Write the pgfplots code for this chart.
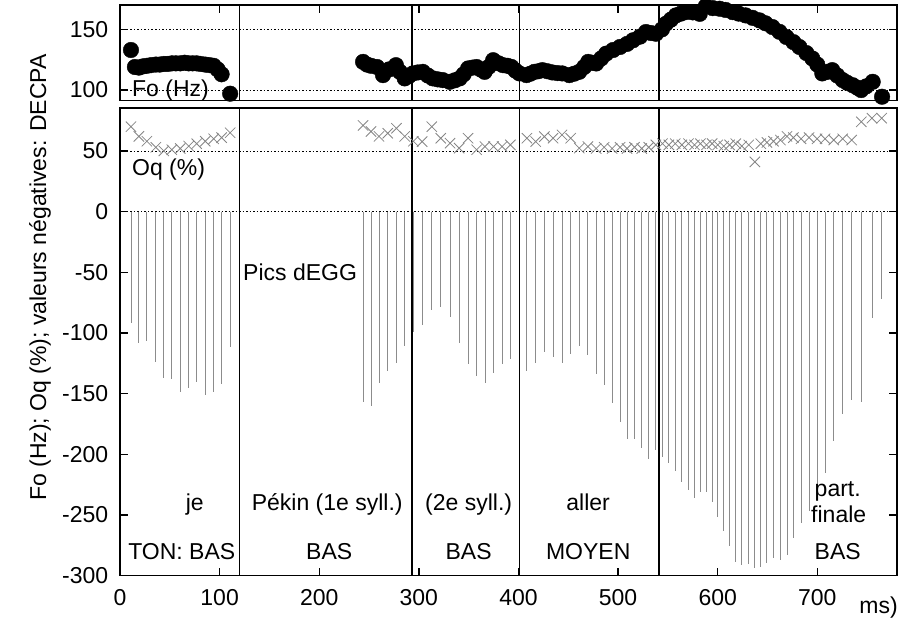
\documentclass[border=0pt]{standalone}
\usepackage{pgfplots}
\pgfplotsset{compat=1.18}
\usepackage{fontspec}
\setmainfont{Liberation Sans}

\pgfplotsset{
  base/.style={
    scale only axis, width=777pt, xmin=0, xmax=780,
    axis line style={line width=1.5pt, black},
    tick style={line width=1.4pt, black},
    major tick length=8pt, tick align=inside,
    clip=false,
    /pgf/number format/assume math mode=true,
    xtick={0,100,...,700},
    ticklabel style={font=\fontsize{23}{27}\selectfont},
  },
}
\tikzset{
  sep/.style={line width=1.9pt, black},
  grd/.style={black, line width=0.5pt, dash pattern=on 1.5pt off 2pt},
}

\begin{document}
\fontsize{23}{27}\selectfont
\begin{tikzpicture}
\path[use as bounding box] (-120pt,-47.4pt) rectangle (779pt,575.6pt);

% ---------------- bottom axis: Oq and DECPA
\begin{axis}[base, at={(0pt,0pt)}, anchor=south west, height=467.6pt,
  ymin=-300, ymax=85.4,
  ytick={-300,-250,-200,-150,-100,-50,0,50},
  yticklabels={-300,-250,-200,-150,-100,-50,0,50},
  xtick pos=bottom, ytick pos=both,
  xticklabels={0,100,200,300,400,500,600,700},
  xticklabel style={yshift=-6pt},
  yticklabel style={xshift=-4pt},
]
\draw[grd] (axis cs:0,50) -- (axis cs:780,50);
\draw[grd] (axis cs:0,0) -- (axis cs:780,0);

\addplot[ycomb, black!45, line width=0.9pt, mark=none] table[x=t, y=v] {
t v
11 -91.5
19 -108.5
27 -107
36 -124
44 -137
52 -138
60.5 -149
69 -145
77 -140.6
85.6 -151
94 -149
102 -142
110.6 -111.5
244.4 -157
252.4 -160
260.5 -141
268.8 -131
277.5 -125
285.8 -111
294.5 -99.4
303.3 -93.4
313 -81
322 -78.8
331.3 -87
340.4 -108
349.4 -126
358 -135.4
366.4 -141
375 -133
383.5 -126
391.9 -121.7
408.5 -131
417.3 -124.4
426 -115.4
434.7 -120
443.7 -125
452.4 -117.6
461 -110.7
469.7 -118
478 -133.8
486 -142.8
494 -157.4
502 -173.6
509 -187.6
516.5 -187.6
523.8 -194.5
530.8 -204
537.9 -196.4
544.6 -202.4
551 -207.4
557.4 -213.4
564 -222.5
570.7 -229.4
576.7 -236.3
582.7 -230.7
588.8 -230.7
594.4 -239
600 -251.4
606.1 -263
612 -276
618.2 -288.4
624.2 -291
631.2 -290.4
637.3 -293.4
643.3 -292.6
649.4 -289.8
656 -285.7
663 -287
669.6 -283
676 -269
683.7 -256.3
691.7 -246.7
699.7 -229.4
707.8 -215.6
716.5 -188.7
725.5 -166.7
734.5 -155.2
744.2 -156.6
754.9 -87.9
764.6 -72.2
};

\addplot[only marks, mark=x, mark size=7.3pt, black!48, mark options={line width=0.8pt}] table[x=t, y=v] {
t v
11 70
19 62
27 58
36 53
44 50
52 51
60.5 52
69 54
77 56
85.6 58
94 60
102 61
110.6 65
244 71
252 66
260 62
268.8 64.6
277.5 68.7
285.8 62
294.5 58
303.3 57.7
313 70
322 60.5
331.3 56.4
340.4 52.3
349.4 60.5
358 51
366.4 53.6
375 53.6
383.5 53.6
391.9 55
408.5 60.5
417.3 57.7
426 61.8
434.7 60.5
443.7 63.2
452.4 60.5
461 52.3
469.7 53.6
478 52
486 53
494 52
502 53
509 52
516.5 53
523.8 52
530.8 53
537.9 55
544.6 56
551 55
557.4 56
564 55
570.7 56
576.7 55
582.7 56
588.8 55
594.4 56
600 55
606.1 54
612 55
618.2 56
624.2 54
631.2 55
637.3 41
643.3 56
649.4 57
656 58
663 59
669.6 62
676 61
683.7 60
691.7 61
699.7 60
707.8 60
716.5 59
725.5 60
734.5 59
744.2 74
754.9 77
764.6 77
};

\draw[sep] (axis cs:120,-300) -- (axis cs:120,85.4);
\draw[sep] (axis cs:293.5,-300) -- (axis cs:293.5,85.4);
\draw[sep] (axis cs:401,-300) -- (axis cs:401,85.4);
\draw[sep] (axis cs:541,-300) -- (axis cs:541,85.4);

\node[anchor=west, inner sep=0pt] at (axis cs:12,34.4) {Oq (\%)};
\node[anchor=west, inner sep=0pt] at (axis cs:123.5,-49.7) {Pics dEGG};
\node[anchor=base, inner sep=0pt] at (axis cs:75,-246.5) {je};
\node[anchor=base, inner sep=0pt] at (axis cs:208,-246.5) {Pékin (1e syll.)};
\node[anchor=base, inner sep=0pt] at (axis cs:350,-246.5) {(2e syll.)};
\node[anchor=base, inner sep=0pt] at (axis cs:470,-246.5) {aller};
\node[anchor=base, inner sep=0pt] at (axis cs:720.5,-235) {part.};
\node[anchor=base, inner sep=0pt] at (axis cs:721.5,-256.3) {finale};
\node[anchor=base, inner sep=0pt] at (axis cs:62,-287) {TON: BAS};
\node[anchor=base, inner sep=0pt] at (axis cs:210,-287) {BAS};
\node[anchor=base, inner sep=0pt] at (axis cs:350,-287) {BAS};
\node[anchor=base, inner sep=0pt] at (axis cs:470,-287) {MOYEN};
\node[anchor=base, inner sep=0pt] at (axis cs:720.5,-287) {BAS};
\end{axis}

% ---------------- top axis: F0
\begin{axis}[base, at={(0pt,475.1pt)}, anchor=south west, height=95.4pt,
  ymin=91.4, ymax=170,
  ytick={100,150}, yticklabels={100,150},
  xtick pos=top, ytick pos=both, xticklabels={},
  yticklabel style={xshift=-4pt},
]
\draw[grd] (axis cs:0,150) -- (axis cs:780,150);
\draw[grd] (axis cs:0,100) -- (axis cs:780,100);

\addplot[only marks, mark=*, mark size=7.8pt, black] table[x=t, y=v] {
t v
11 133
15 119
19 118.5
23 119.5
27 120
31 120.5
36 121
40 121
44 121.5
48 121.5
52 122
56 122
60.5 122
65 122.5
69 122
73 122
77 122
81 121.5
85.6 121
90 120.5
94 120
98 117
102 113
110.6 97
244 123.2
248 121
252 120
258 119
264 112.3
270 117
277 120.5
281 115
285.8 109.6
290 111.5
294 113.7
299 114.5
304 115
309 112
314 109.6
319 108.8
324 108.2
331 106.8
336 108
341 109.6
345 113
349.5 117.8
354 118.5
358 119
362 117
366 115
370 119
374.6 124.6
380 122
384.5 120.5
389 120
393 119
397 116
401 113.7
408 112.3
412 113.5
416 115
420 115.5
424 116.4
429 115.5
434 114.5
439 114
444 113.7
451 112.3
456 113.5
461 115
466 119
470 123.2
474 122.5
478 121.9
483 126
488 130
495 133
502 135.5
509 138
515 141
522 144
528 147.8
533 147
538 146.4
544 150
548 154.6
553 158
558 161.5
563 163
568 164.2
575 164
582 162.8
588 169
595 167.5
602 167
608 166
615 164.2
621 163
628 161.5
635 159.5
642 157.4
648 155
655 151.9
662 148
669 143.7
676 139.5
682 135.5
689 130.5
695 126
700 121
705 113.7
710 115
715 116.4
720 112
725.5 108.2
730 106
735.5 104
740 102
744 100
749 103
755.6 106.8
765 94.5
};

\draw[sep] (axis cs:120,91.4) -- (axis cs:120,170);
\draw[sep] (axis cs:293.5,91.4) -- (axis cs:293.5,170);
\draw[sep] (axis cs:401,91.4) -- (axis cs:401,170);
\draw[sep] (axis cs:541,91.4) -- (axis cs:541,170);

\node[anchor=west, inner sep=0pt] at (axis cs:12,100) {Fo (Hz)};
\end{axis}

\node[rotate=90, inner sep=0pt] at (-80pt,298pt) {Fo (Hz); Oq (\%); valeurs négatives: DECPA};
\node[anchor=base east, inner sep=0pt] at (778pt,-37.4pt) {ms)};
\end{tikzpicture}
\end{document}
